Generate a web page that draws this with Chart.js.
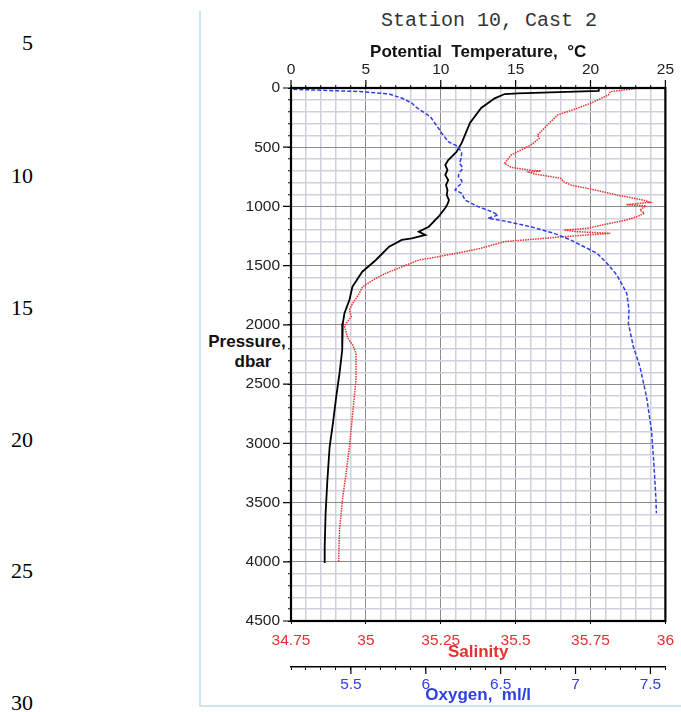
<!DOCTYPE html>
<html>
<head>
<meta charset="utf-8">
<title>Station 10, Cast 2</title>
<script src="https://cdn.jsdelivr.net/npm/chart.js@4.4.1/dist/chart.umd.min.js"></script>
<style>
  body { margin: 0; background: #fff; }
  #page { position: relative; width: 681px; height: 712px; overflow: hidden; }
  #chart { position: absolute; left: 0; top: 0; }
  .ln { position: absolute; left: 0; width: 33px; text-align: right; font: 22px "Liberation Serif", "Times New Roman", serif; line-height: 22px; color: #000; }
  #frame { position: absolute; left: 199px; top: 11px; width: 490px; height: 694px; border-left: 2px solid #cde6ee; border-bottom: 2px solid #cde6ee; }
  #station { position: absolute; left: 381px; top: 11px; font: 20px "Liberation Mono", "Courier New", monospace; line-height: 20px; color: #333; white-space: pre; }
  .ylab { position: absolute; font: bold 17px "Liberation Sans", Arial, sans-serif; line-height: 20px; color: #111; white-space: pre; transform: translateX(-50%); }
</style>
</head>
<body>
<div id="page">
  <div id="frame"></div>
  <div class="ln" style="top:32px">5</div>
  <div class="ln" style="top:165px">10</div>
  <div class="ln" style="top:297px">15</div>
  <div class="ln" style="top:429px">20</div>
  <div class="ln" style="top:560px">25</div>
  <div class="ln" style="top:692px">30</div>
  <div id="station">Station 10, Cast 2</div>
  <div class="ylab" style="left:247px; top:332px">Pressure,</div>
  <div class="ylab" style="left:253px; top:352px">dbar</div>
  <canvas id="chart" width="681" height="712"></canvas>
</div>
<script>
// ── DATA (pressure in dbar) ──
const tempP = [0, 25, 45, 51, 87, 169, 295, 464, 540, 608, 650, 692, 735, 777, 820, 861, 905, 946, 980, 1013,
               1087, 1171, 1213, 1241, 1269, 1283, 1340, 1452, 1551, 1678, 1790, 1902, 1987, 2100, 2212,
               2409, 2606, 2831, 3029, 3310, 3591, 3873, 4010];
const tempT = [20.55, 20.55, 15.15, 14.27, 13.6, 12.7, 11.95, 11.4, 11.05, 10.5, 10.3, 10.45, 10.3, 10.5, 10.35, 10.45, 10.4, 10.55, 10.45, 10.3,
               9.85, 9.2, 8.53, 8.97, 8.07, 7.4, 6.55, 5.67, 4.76, 4.1, 3.9, 3.57, 3.46, 3.42, 3.42,
               3.24, 3.02, 2.8, 2.58, 2.43, 2.31, 2.25, 2.25];

const salP = [0, 31, 59, 129, 171, 228, 285, 340, 397, 425, 481, 523, 566, 636, 670, 695, 700, 710, 726, 762, 791, 819,
              847, 903, 946, 965, 985, 995, 1030, 1058, 1087, 1115, 1142, 1185, 1199, 1213, 1227, 1241, 1255, 1269,
              1297, 1359, 1424, 1452, 1509, 1565, 1607, 1678, 1734, 1818, 1874, 1931, 1987, 2015, 2113, 2170, 2240,
              2465, 2747, 3029, 3253, 3451, 3732, 4000];
const salS = [35.915, 35.816, 35.81, 35.75, 35.706, 35.64, 35.617, 35.596, 35.573, 35.579, 35.551, 35.518, 35.485, 35.463, 35.485, 35.55, 35.584, 35.545, 35.563, 35.65, 35.66, 35.684,
              35.739, 35.838, 35.926, 35.948, 35.87, 35.935, 35.915, 35.93, 35.904, 35.87, 35.816, 35.739, 35.662, 35.706, 35.816, 35.739, 35.662, 35.596,
              35.463, 35.375, 35.243, 35.177, 35.121, 35.066, 35.033, 34.989, 34.978, 34.956, 34.945, 34.951, 34.934, 34.929, 34.94, 34.956, 34.967,
              34.967, 34.956, 34.945, 34.934, 34.923, 34.912, 34.909];

const oxyP = [11, 31, 51, 87, 129, 158, 242, 340, 382, 453, 496, 551, 600, 636, 670, 692, 720, 749, 780, 805, 835, 861, 889, 946,
              1002, 1044, 1072, 1100, 1129, 1171, 1227, 1283, 1353, 1396, 1480, 1579, 1733, 1874, 1987, 2184, 2353,
              2606, 2888, 3169, 3451, 3591];
const oxyO = [5.115, 5.578, 5.755, 5.843, 5.909, 5.93, 6.03, 6.085, 6.107, 6.15, 6.218, 6.24, 6.235, 6.225, 6.245, 6.24, 6.22, 6.218, 6.24, 6.24, 6.21, 6.196, 6.24, 6.262,
              6.35, 6.44, 6.483, 6.416, 6.55, 6.7, 6.857, 6.967, 7.077, 7.144, 7.21, 7.276, 7.342, 7.357, 7.353, 7.386, 7.43,
              7.474, 7.507, 7.523, 7.536, 7.54];

// ── AXIS SETUP ──
const RED = '#e8302e';
const BLUE = '#2f3fe6';
const MINOR_GRID = '#d0d0dd';
const MAJOR_GRID = '#8c8c8c';

function toPoints(vals, pres) {
    return vals.map((v, i) => ({ x: v, y: pres[i] }));
}

function isHalf(v) {
    return Math.abs(v * 2 - Math.round(v * 2)) < 1e-6;
}

function fmt(v) {
    return String(parseFloat(v.toFixed(2)));
}

Chart.defaults.font.family = '"Liberation Sans", Arial, sans-serif';
Chart.defaults.font.size = 15.5;

// longer tick marks at labelled values, plus the black box round the plot
const majorTicks = {
    id: 'majorTicks',
    afterDraw(chart) {
        const { ctx, chartArea: a, scales } = chart;
        ctx.save();
        ctx.strokeStyle = '#000';
        ctx.lineWidth = 1.2;
        ctx.beginPath();
        scales.xT.ticks.forEach(t => {
            if (t.value % 5 !== 0) return;
            const x = scales.xT.getPixelForValue(t.value);
            ctx.moveTo(x, a.top);
            ctx.lineTo(x, a.top - 8);
        });
        scales.y.ticks.forEach(t => {
            if (t.value % 500 !== 0) return;
            const y = scales.y.getPixelForValue(t.value);
            ctx.moveTo(a.left, y);
            ctx.lineTo(a.left - 8, y);
        });
        const o = scales.xO;
        o.ticks.forEach(t => {
            if (!isHalf(t.value)) return;
            const x = o.getPixelForValue(t.value);
            ctx.moveTo(x, o.top);
            ctx.lineTo(x, o.top + 7);
        });
        ctx.stroke();
        ctx.lineWidth = 2.2;
        ctx.strokeRect(a.left, a.top, a.right - a.left, a.bottom - a.top);
        ctx.restore();
    }
};

const ctx = document.getElementById('chart').getContext('2d');
const profileChart = new Chart(ctx, {
    type: 'scatter',
    data: {
        datasets: [
            {
                label: 'Oxygen',
                data: toPoints(oxyO, oxyP),
                xAxisID: 'xO', yAxisID: 'y',
                showLine: true, pointRadius: 0,
                borderColor: BLUE, borderWidth: 1.5, borderDash: [4, 2]
            },
            {
                label: 'Salinity',
                data: toPoints(salS, salP),
                xAxisID: 'xS', yAxisID: 'y',
                showLine: true, pointRadius: 0,
                borderColor: RED, borderWidth: 1.5, borderDash: [1.5, 1]
            },
            {
                label: 'Potential Temperature',
                data: toPoints(tempT, tempP),
                xAxisID: 'xT', yAxisID: 'y',
                showLine: true, pointRadius: 0,
                borderColor: '#000', borderWidth: 1.8
            }
        ]
    },
    options: {
        responsive: false,
        animation: false,
        devicePixelRatio: 1,
        layout: { padding: { left: 200, right: 12, top: 0, bottom: 0 } },
        plugins: {
            legend: { display: false },
            tooltip: { enabled: false }
        },
        scales: {
            xT: {
                type: 'linear', position: 'top',
                min: 0, max: 25,
                afterFit: s => { s.height = 88; },
                border: { display: false },
                grid: {
                    color: c => c.tick && c.tick.value % 5 === 0 ? MAJOR_GRID : MINOR_GRID,
                    lineWidth: c => c.tick && c.tick.value % 5 === 0 ? 1 : 1.5,
                    tickLength: 3, tickColor: '#000', tickWidth: 1
                },
                ticks: {
                    stepSize: 1, autoSkip: false, maxRotation: 0, minRotation: 0,
                    padding: 6, color: '#222',
                    callback: v => v % 5 === 0 ? String(v) : ''
                },
                title: {
                    display: true, text: 'Potential  Temperature,  °C',
                    color: '#111', font: { size: 17, weight: 'bold' },
                    padding: { top: 42, bottom: 0 }
                }
            },
            xS: {
                type: 'linear', position: 'bottom', weight: 0,
                min: 34.75, max: 36,
                afterFit: s => { s.height = 46; },
                border: { display: false },
                grid: { drawOnChartArea: false, tickLength: 3, tickColor: '#000', tickWidth: 1 },
                ticks: {
                    stepSize: 0.25, autoSkip: false, maxRotation: 0, minRotation: 0,
                    padding: 7, color: RED,
                    callback: v => fmt(v)
                },
                title: {
                    display: true, text: 'Salinity',
                    color: RED, font: { size: 17, weight: 'bold' },
                    padding: { top: 0, bottom: 4 }
                }
            },
            xO: {
                type: 'linear', position: 'bottom', weight: 1,
                min: 5.1, max: 7.6,
                afterFit: s => { s.height = 45; },
                border: { display: true, color: '#000', width: 1.5 },
                grid: { drawOnChartArea: false, tickLength: 3, tickColor: '#000', tickWidth: 1 },
                ticks: {
                    stepSize: 0.1, autoSkip: false, maxRotation: 0, minRotation: 0,
                    padding: 5, color: BLUE,
                    callback: v => isHalf(v) ? fmt(v) : ''
                },
                title: {
                    display: true, text: 'Oxygen,  ml/l',
                    color: BLUE, font: { size: 17, weight: 'bold' },
                    padding: { top: 0, bottom: 6 }
                }
            },
            y: {
                type: 'linear', position: 'left', reverse: true,
                min: 0, max: 4500,
                afterFit: s => { s.width = 91; },
                border: { display: false },
                grid: {
                    color: c => c.tick && c.tick.value % 500 === 0 ? MAJOR_GRID : MINOR_GRID,
                    lineWidth: c => c.tick && c.tick.value % 500 === 0 ? 1 : 1.5,
                    tickLength: 3, tickColor: '#000', tickWidth: 1
                },
                ticks: {
                    stepSize: 100, autoSkip: false,
                    padding: 8, color: '#222',
                    callback: v => v % 500 === 0 ? String(v) : ''
                },
                title: { display: false }
            }
        }
    },
    plugins: [majorTicks]
});
</script>
</body>
</html>
